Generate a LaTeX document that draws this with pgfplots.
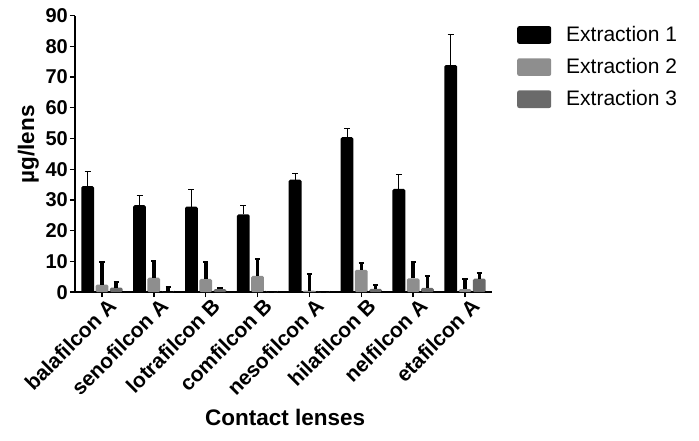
\documentclass[border=0pt]{standalone}
\usepackage{pgfplots}
\pgfplotsset{compat=1.18}
\usepackage{pgfplotstable}
\usepackage{fontspec}
\setmainfont{Liberation Sans}
\definecolor{gA}{HTML}{000000}
\definecolor{gB}{HTML}{8E8E8E}
\definecolor{gC}{HTML}{6A6A6A}
\pgfplotstableread{
x e1 d1 e2 d2 e3 d3
0 34.5 4.7 2.5 7.2 1.5 1.7
1 28.3 3.3 4.7 5.5 0.0 1.6
2 27.8 5.5 4.3 5.4 1.0 0.3
3 25.3 2.8 5.3 5.5 0.0 0.0
4 36.6 2.0 0.5 5.4 0.0 0.0
5 50.4 2.8 7.3 2.3 1.1 1.3
6 33.6 4.7 4.5 5.2 1.4 3.8
7 73.9 10.0 1.0 3.4 4.4 1.9
}\data
\begin{document}
\begin{tikzpicture}[x=1pt,y=1pt]
\useasboundingbox (0,0) rectangle (699,441);
\begin{axis}[
  at={(75pt,148.8pt)}, anchor=south west,
  scale only axis, width=417pt, height=276.7pt,
  ybar=1.5pt, bar width=12.8pt,
  xmin=-0.52, xmax=7.52, ymin=0, ymax=90,
  axis lines=left, axis line style={line width=1.6pt, -},
  ytick={0,10,...,90},
  xtick={0,...,7},
  xticklabels={balafilcon A,senofilcon A,lotrafilcon B,comfilcon B,nesofilcon A,hilafilcon B,nelfilcon A,etafilcon A},
  x tick label style={rotate=45, anchor=north east, font=\bfseries\fontsize{21}{23}\selectfont, inner sep=1pt, xshift=5pt, yshift=-2pt},
  y tick label style={font=\bfseries\fontsize{20}{22}\selectfont, inner sep=2pt},
  /pgf/number format/assume math mode=true,
  tick align=outside, major tick length=5pt,
  tick style={line width=1.4pt, black},
  xlabel={\bfseries Contact lenses},
  ylabel={\bfseries µg/lens},
  label style={font=\bfseries\fontsize{22.5}{25}\selectfont},
  xlabel style={at={(axis description cs:0.504,-0.452)}, anchor=center},
  ylabel style={at={(axis description cs:-0.112,0.534)}, anchor=center},
  legend style={draw=none, at={(1,1)}, anchor=north west, xshift=25pt, yshift=-10.5pt,
     font=\fontsize{21}{23}\selectfont, inner sep=0pt, row sep=14.5pt,
     nodes={inner sep=0pt, text height=15pt, text depth=2pt}},
  legend cell align=left,
  legend image code/.code={\fill[#1, rounded corners=2pt] (0pt,-8.8pt) rectangle (34pt,8.8pt); \path (49pt,0pt);},
  enlarge y limits=false, clip=false,
  error bars/y dir=plus, error bars/y explicit,
]
\addplot[fill=gA, draw=none, rounded corners=1.5pt,
  error bars/error bar style={line width=1pt, black},
  error bars/error mark options={line width=1pt, mark size=3pt, black, rotate=90}]
  table[x=x, y=e1, y error=d1]{\data};
\addplot[fill=gB, draw=none, rounded corners=1.5pt,
  error bars/error bar style={line width=3.6pt, black},
  error bars/error mark options={line width=2pt, mark size=2.6pt, black, rotate=90}]
  table[x=x, y=e2, y error=d2]{\data};
\addplot[fill=gC, draw=none, rounded corners=1.5pt,
  error bars/error bar style={line width=3.6pt, black},
  error bars/error mark options={line width=2pt, mark size=2.6pt, black, rotate=90}]
  table[x=x, y=e3, y error=d3]{\data};
\legend{Extraction 1,Extraction 2,Extraction 3}
\end{axis}
\end{tikzpicture}
\end{document}
